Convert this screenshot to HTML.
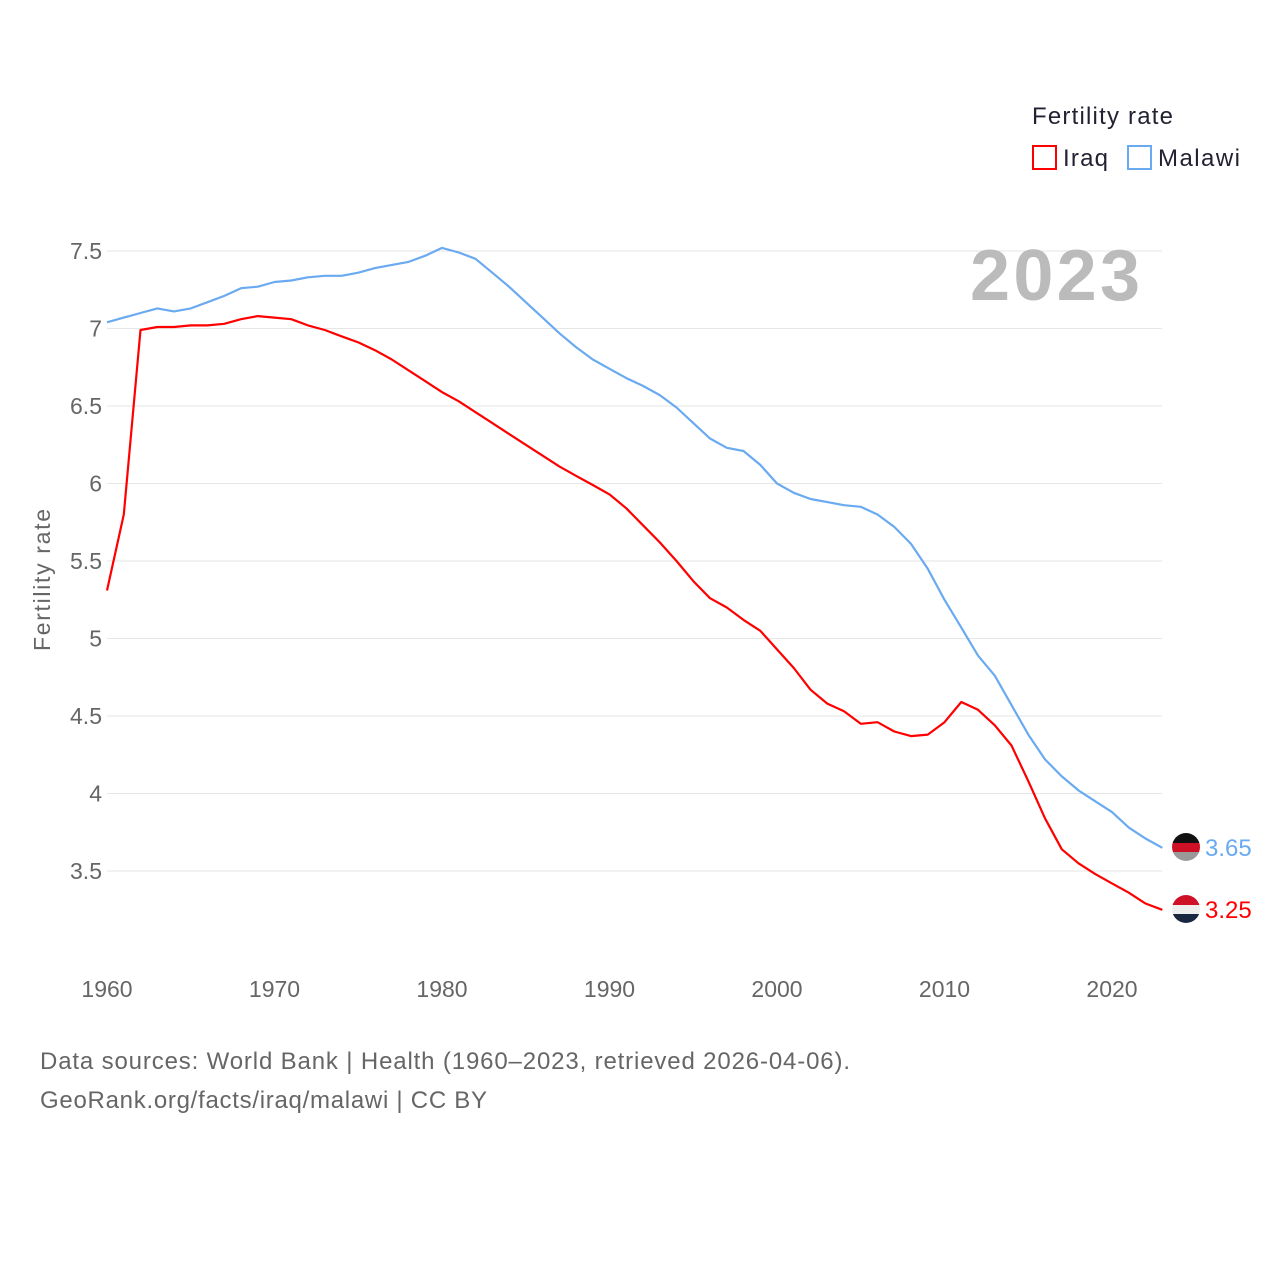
<!DOCTYPE html>
<html><head><meta charset="utf-8"><style>
body{margin:0;background:#fff;font-family:"Liberation Sans",sans-serif}
svg text{font-family:"Liberation Sans",sans-serif}
</style></head><body>
<svg id="chart" width="1280" height="1280" viewBox="0 0 1280 1280">
<defs>
<clipPath id="c1"><circle cx="1186" cy="847" r="14"/></clipPath>
<clipPath id="c2"><circle cx="1186" cy="909" r="14"/></clipPath>
</defs>
<g id="grid"></g>
<g id="yticks"></g>
<g id="xticks"></g>
<text transform="translate(50,580) rotate(-90)" text-anchor="middle" font-size="23" fill="#666" textLength="142">Fertility rate</text>
<text x="1140" y="300" text-anchor="end" font-size="72" font-weight="bold" fill="#bbb" textLength="170">2023</text>
<g>
<text x="1032" y="124" font-size="24" fill="#223" textLength="141">Fertility rate</text>
<g><rect x="1033" y="146" width="23" height="23" fill="none" stroke="#f00" stroke-width="2"/><text x="1063" y="166" font-size="24" fill="#223" textLength="45">Iraq</text></g>
<g><rect x="1128" y="146" width="23" height="23" fill="none" stroke="#6aaaf0" stroke-width="2"/><text x="1158" y="166" font-size="24" fill="#223" textLength="82">Malawi</text></g>
</g>
<g id="series"></g>
<g clip-path="url(#c1)">
<rect x="1172" y="833" width="28" height="10" fill="#111"/><rect x="1172" y="843" width="28" height="9" fill="#ce1126"/><rect x="1172" y="852" width="28" height="10" fill="#999"/>
</g>
<g clip-path="url(#c2)">
<rect x="1172" y="895" width="28" height="10" fill="#ce1126"/><rect x="1172" y="905" width="28" height="9" fill="#eee"/><rect x="1172" y="914" width="28" height="10" fill="#1a2740"/>
</g>
<text x="40" y="1069" font-size="24" fill="#666" textLength="810">Data sources: World Bank | Health (1960–2023, retrieved 2026-04-06).</text>
<text x="40" y="1108" font-size="24" fill="#666" textLength="447">GeoRank.org/facts/iraq/malawi | CC BY</text>
</svg>
<script>
const years=[];for(let y=1960;y<=2023;y++)years.push(y);
const iraq=[5.31,5.8,6.99,7.01,7.01,7.02,7.02,7.03,7.06,7.08,7.07,7.06,7.02,6.99,6.95,6.91,6.86,6.8,6.73,6.66,6.59,6.53,6.46,6.39,6.32,6.25,6.18,6.11,6.05,5.99,5.93,5.84,5.73,5.62,5.5,5.37,5.26,5.2,5.12,5.05,4.93,4.81,4.67,4.58,4.53,4.45,4.46,4.4,4.37,4.38,4.46,4.59,4.54,4.44,4.31,4.08,3.84,3.64,3.55,3.48,3.42,3.36,3.29,3.25];
const malawi=[7.04,7.07,7.1,7.13,7.11,7.13,7.17,7.21,7.26,7.27,7.3,7.31,7.33,7.34,7.34,7.36,7.39,7.41,7.43,7.47,7.52,7.49,7.45,7.36,7.27,7.17,7.07,6.97,6.88,6.8,6.74,6.68,6.63,6.57,6.49,6.39,6.29,6.23,6.21,6.12,6.0,5.94,5.9,5.88,5.86,5.85,5.8,5.72,5.61,5.45,5.25,5.07,4.89,4.76,4.57,4.38,4.22,4.11,4.02,3.95,3.88,3.78,3.71,3.65];
const yTicks=[3.5,4,4.5,5,5.5,6,6.5,7,7.5];
const xTicks=[1960,1970,1980,1990,2000,2010,2020];
const NS="http://www.w3.org/2000/svg";
const X=y=>107+(y-1960)*16.75;
const Y=v=>251+(7.5-v)*155;
function mk(t,a,p){const e=document.createElementNS(NS,t);for(const k in a)e.setAttribute(k,a[k]);p.appendChild(e);return e;}
const grid=document.getElementById('grid'),yt=document.getElementById('yticks'),xt=document.getElementById('xticks'),ser=document.getElementById('series');
yTicks.forEach(v=>{
 const l=mk('line',{x1:107,x2:1162,y1:Y(v),y2:Y(v),stroke:'#e6e6e6','stroke-width':1},grid);
 
 
 const t=mk('text',{x:102,y:Y(v)+8,'text-anchor':'end','font-size':23,fill:'#666'},yt);
 t.textContent=String(v);
 
 
});
xTicks.forEach(v=>{
 const t=mk('text',{x:X(v),y:997,'text-anchor':'middle','font-size':23,fill:'#666'},xt);
 t.textContent=String(v);
 
 
});
function line(vals,color,name){
 const d=vals.map((v,i)=>(i?'L':'M')+X(years[i]).toFixed(1)+','+Y(v).toFixed(1)).join('');
 const p=mk('path',{d:d,fill:'none',stroke:color,'stroke-width':2.2,'stroke-linejoin':'round'},ser);
 
 
 const last=vals[vals.length-1];
 const t=mk('text',{x:1205,y:Y(last)+8,'font-size':24,fill:color},ser);
 t.textContent=last.toFixed(2);
 
 
}
line(malawi,'#6aaaf0','malawi');
line(iraq,'#f00','iraq');
</script>
</body></html>
